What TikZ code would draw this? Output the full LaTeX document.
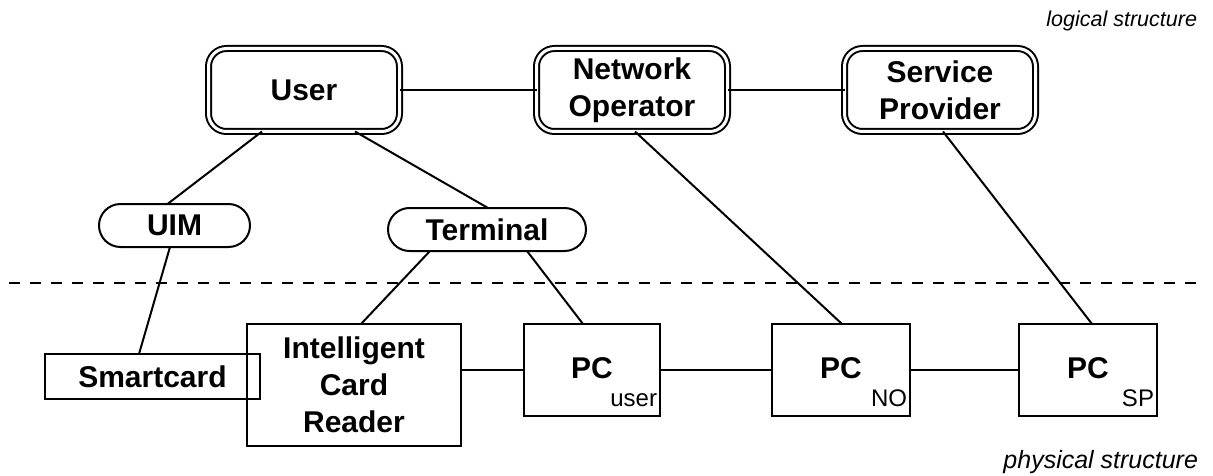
\documentclass[tikz,border=0pt]{standalone}
\usepackage{fontspec}
\setmainfont{Liberation Sans}
\usetikzlibrary{shapes.misc,calc}
\begin{document}
\begin{tikzpicture}[x=1pt,y=-1pt,
  every node/.style={inner sep=0pt,outer sep=0pt},
  lbl/.style={font=\fontsize{30}{37}\selectfont\bfseries,align=center},
  role/.style={lbl,draw,line width=2pt,double,double distance=3pt,rounded corners=18pt,
    minimum width=191pt,minimum height=83pt},
  pill/.style={lbl,draw,line width=2pt,rounded rectangle,minimum height=43pt},
  device/.style={lbl,draw,line width=2pt,rectangle},
  sub/.style={font=\fontsize{24}{28}\selectfont,anchor=base east},
  tag/.style={font=\fontsize{24}{28}\selectfont\itshape,anchor=base east},
  link/.style={line width=2pt}]
\useasboundingbox (0,0) rectangle (1213,476);

% logical structure
\node[role] (User) at (304,90) {User};
\node[role] (NO) at (632,90) {Network\\Operator};
\node[role] (SP) at (940,90) {Service\\Provider};
\node[pill,minimum width=151pt] (UIM) at (174.5,225.5) {UIM};
\node[pill,minimum width=198pt] (Term) at (487,229.5) {Terminal};

% physical structure
\node[device,minimum width=215pt,minimum height=45pt] (Card) at (152.5,376.5) {Smartcard};
\node[device,minimum width=214pt,minimum height=122pt] (ICR) at (354,385) {Intelligent\\Card\\Reader};
\node[device,minimum width=136pt,minimum height=92pt] (PCu) at (592,370) {};
\node[device,minimum width=138pt,minimum height=92pt] (PCn) at (841,370) {};
\node[device,minimum width=138pt,minimum height=92pt] (PCs) at (1088,370) {};
\foreach \p/\s in {PCu/user,PCn/NO,PCs/SP}{
  \node[lbl] (\p-name) at ([yshift=2pt]\p.center) {PC};
  \node[sub] (\p-sub) at ([xshift=-3pt,yshift=10pt]\p.south east) {\s};
}

% layer separator and captions
\coordinate (sepL) at (9,283);
\coordinate (sepR) at (1205,283);
\draw[line width=2.5pt,dash pattern=on 11pt off 10pt] (sepL) -- (sepR);
\node[tag,font=\fontsize{21.5}{26}\selectfont\itshape] (logic) at (1197,27) {logical structure};
\node[tag,font=\fontsize{25}{30}\selectfont\itshape] (phys) at (1198,468) {physical structure};

% connectors
\draw[link] (User.east) -- (NO.west);
\draw[link] (NO.east) -- (SP.west);
\draw[link] ([xshift=-42pt]User.south) -- ([xshift=-7pt]UIM.north);
\draw[link] ([xshift=51pt]User.south) -- ([xshift=1pt]Term.north);
\draw[link] ([xshift=-4.5pt]UIM.south) -- ([xshift=-13.5pt]Card.north);
\draw[link] ([xshift=-57pt]Term.south) -- ([xshift=7pt]ICR.north);
\draw[link] ([xshift=40pt]Term.south) -- ([xshift=-9pt]PCu.north);
\draw[link] ([xshift=3pt]NO.south) -- ([xshift=1pt]PCn.north);
\draw[link] ([xshift=3pt]SP.south) -- ([xshift=4pt]PCs.north);
\draw[link] ([yshift=15pt]ICR.east) -- (PCu.west);
\draw[link] (PCu.east) -- (PCn.west);
\draw[link] (PCn.east) -- (PCs.west);
\end{tikzpicture}
\end{document}
